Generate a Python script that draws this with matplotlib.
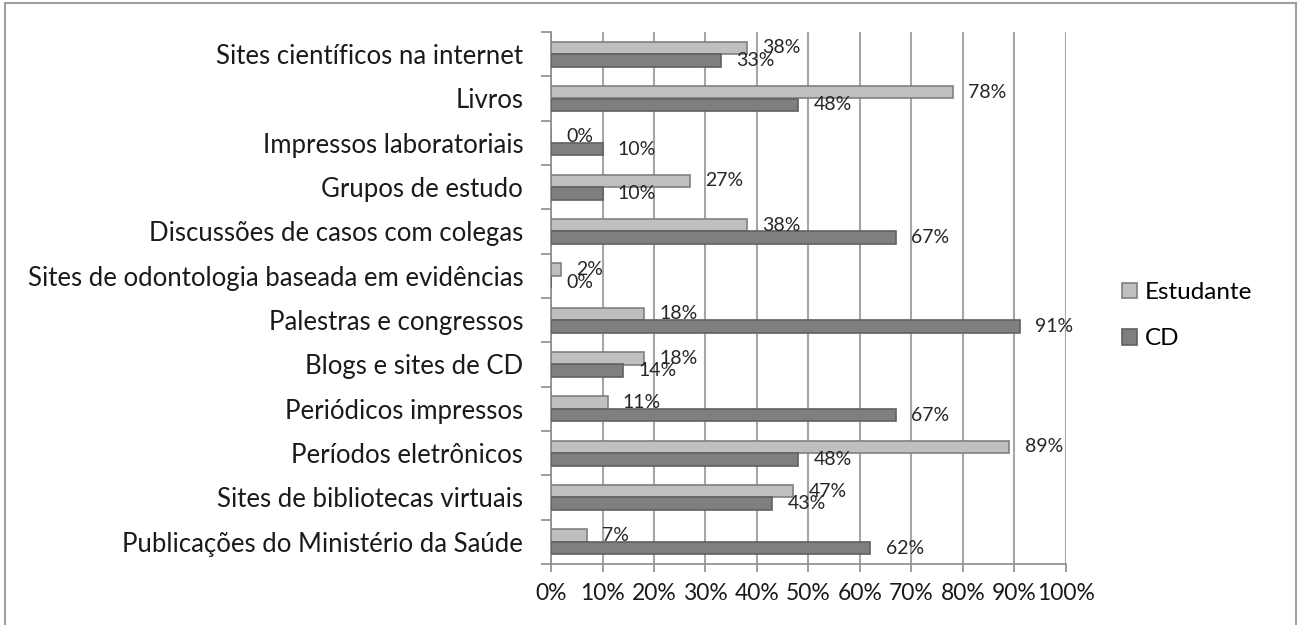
import matplotlib
matplotlib.use("Agg")
import matplotlib.pyplot as plt
import numpy as np
from matplotlib.patches import Rectangle

categorias = [
    "Sites científicos na internet",
    "Livros",
    "Impressos laboratoriais",
    "Grupos de estudo",
    "Discussões de casos com colegas",
    "Sites de odontologia baseada em evidências",
    "Palestras e congressos",
    "Blogs e sites de CD",
    "Periódicos impressos",
    "Períodos eletrônicos",
    "Sites de bibliotecas virtuais",
    "Publicações do Ministério da Saúde",
]
estudante = [38, 78, 0, 27, 38, 2, 18, 18, 11, 89, 47, 7]
cd = [33, 48, 10, 10, 67, 0, 91, 14, 67, 48, 43, 62]

plt.rcParams['font.family'] = ['Lato', 'DejaVu Sans']

fig = plt.figure(figsize=(13.02, 6.25), dpi=100)
ax = fig.add_axes([0.4232, 0.0976, 0.8187 - 0.4232, 0.9488 - 0.0976])

y = np.arange(len(categorias))
h = 0.28
b1 = ax.barh(y - h / 2, estudante, height=h, color='#bfbfbf', edgecolor='#808080',
             linewidth=1.2, label='Estudante', zorder=3)
b2 = ax.barh(y + h / 2, cd, height=h, color='#7f7f7f', edgecolor='#606060',
             linewidth=1.2, label='CD', zorder=3)

for bars in (b1, b2):
    for r in bars:
        v = r.get_width()
        ax.annotate(f"{v:.0f}%", (v, r.get_y() + r.get_height() / 2),
                    xytext=(11, 0), textcoords='offset points',
                    ha='left', va='center', fontsize=14, color='#262626', zorder=4)

ax.set_xlim(0, 100)
ax.set_ylim(len(categorias) - 0.5, -0.5)
ax.set_xticks(np.arange(0, 101, 10))
ax.set_xticklabels([f"{t}%" for t in range(0, 101, 10)])
ax.set_yticks(y)
ax.set_yticklabels(categorias)
ax.set_yticks(np.arange(-0.5, len(categorias), 1), minor=True)

ax.tick_params(axis='y', which='major', length=0, pad=20, labelsize=18.5, labelcolor='#1a1a1a')
ax.tick_params(axis='y', which='minor', length=7, width=1.2, color='#8c8c8c')
ax.tick_params(axis='x', which='major', length=6, width=1.2, color='#8c8c8c',
               pad=8, labelsize=16.5, labelcolor='#1a1a1a')

ax.grid(axis='x', color='#a6a6a6', linewidth=1.5, zorder=0)
for s in ('top', 'right'):
    ax.spines[s].set_visible(False)
for s in ('left', 'bottom'):
    ax.spines[s].set_color('#8c8c8c')
    ax.spines[s].set_linewidth(1.2)

fig.legend(handles=[b1, b2], labels=['Estudante', 'CD'], loc='center left',
           bbox_to_anchor=(0.845, 0.495), frameon=False, fontsize=17.5,
           handlelength=0.6, handleheight=0.6, handletextpad=0.35, labelspacing=1.05)

fig.patches.append(Rectangle((5 / 1302, -0.01), 1291 / 1302, 1 - 3 / 625 + 0.01,
                             transform=fig.transFigure, fill=False,
                             edgecolor='#a0a0a0', linewidth=1.5))

fig.savefig('out.png', dpi=100)
